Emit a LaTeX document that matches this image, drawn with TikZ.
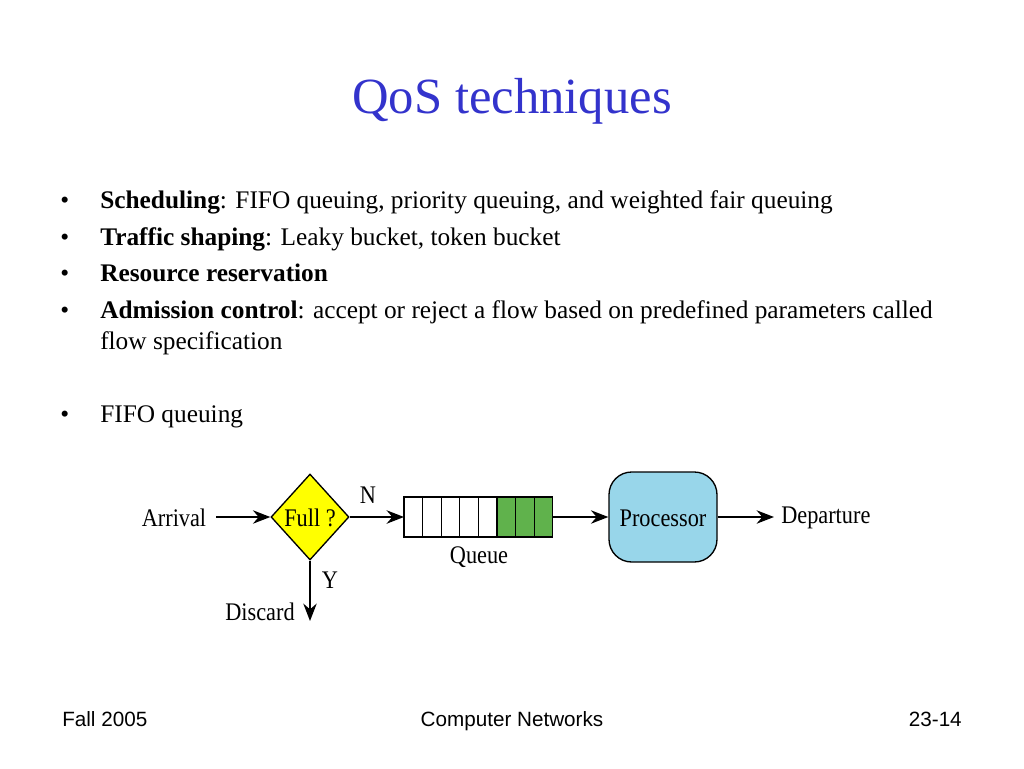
\documentclass[tikz,border=0pt]{standalone}
\usepackage{fontspec}
\usepackage{graphicx}
\setmainfont{Liberation Serif}
\newfontfamily\footfont{Liberation Sans}
\usetikzlibrary{shapes.geometric,arrows.meta}
\definecolor{titleblue}{RGB}{51,51,204}
\definecolor{qgreen}{RGB}{96,178,76}
\definecolor{procblue}{RGB}{152,214,234}
\definecolor{diayellow}{RGB}{255,255,0}
\newcommand\dtx[1]{\scalebox{0.88}[1]{#1}}
\begin{document}
\begin{tikzpicture}[x=0.75pt,y=-0.75pt,
  bodytext/.style={anchor=base west,inner sep=0pt,font=\fontsize{19pt}{22pt}\selectfont},
  bul/.style={anchor=base west,inner sep=0pt,font=\fontsize{19pt}{22pt}\selectfont},
  dtext/.style={inner sep=0pt,font=\fontsize{19pt}{22pt}\selectfont},
  foot/.style={inner sep=0pt,anchor=base,font=\footfont\fontsize{15.5pt}{18pt}\selectfont},
  flow/.style={draw=black,line width=1.6pt,-{Stealth[length=13pt,width=10pt]}},
  cell/.style={draw=black,line width=1pt,minimum width=18.6*0.75pt,minimum height=40*0.75pt,inner sep=0pt,outer sep=0pt}
]
\useasboundingbox (0,0) rectangle (1024,768);
% title
\node[inner sep=0pt,text=titleblue,font=\fontsize{38pt}{42pt}\selectfont] (title) at (512,101) {QoS techniques};
% bullets
\node[bul] (b1) at (60,208) {\textbullet};
\node[bodytext] (t1) at (100,208) {\textbf{Scheduling}: FIFO queuing, priority queuing, and weighted fair queuing};
\node[bul] (b2) at (60,245) {\textbullet};
\node[bodytext] (t2) at (100,245) {\textbf{Traffic shaping}: Leaky bucket, token bucket};
\node[bul] (b3) at (60,281) {\textbullet};
\node[bodytext] (t3) at (100,281) {\textbf{Resource reservation}};
\node[bul] (b4) at (60,318) {\textbullet};
\node[bodytext] (t4) at (100,318) {\textbf{Admission control}: accept or reject a flow based on predefined parameters called};
\node[bodytext] (t4b) at (100,349) {flow specification};
\node[bul] (b5) at (60,422) {\textbullet};
\node[bodytext] (t5) at (100,422) {FIFO queuing};
% diagram
\node[dtext] (arrival) at (174,518) {\dtx{Arrival}};
\node[diamond,draw=black,line width=1pt,fill=diayellow,minimum width=78*0.75pt,minimum height=86*0.75pt,inner sep=0pt,aspect=0.9] (full) at (310,517) {};
\node[dtext] (fulltext) at (310,518) {\dtx{Full ?}};
% queue cells
\foreach \i in {1,...,5}{
  \node[cell,fill=white] (c\i) at ({404+18.6*(\i-0.5)},517) {};
}
\foreach \i in {6,7,8}{
  \node[cell,fill=qgreen] (c\i) at ({404+18.6*(\i-0.5)},517) {};
}
\node[dtext] (queue) at (479,557) {\dtx{Queue}};
\node[draw=black,line width=1pt,fill=procblue,rounded corners=17pt,minimum width=108*0.75pt,minimum height=90*0.75pt,inner sep=0pt] (proc) at (663,517) {};
\node[dtext] (proctext) at (663,518) {\dtx{Processor}};
\node[dtext,anchor=west] (depart) at (781,518) {\dtx{Departure}};
\node[dtext] (discard) at (260,612) {\dtx{Discard}};
\coordinate (discend) at (310,621);
\coordinate (arrstart) at (216,517);
\coordinate (depend) at (774,517);
\draw[flow] (arrstart) -- (full.west);
\draw[flow] (full.east) -- (c1.west);
\draw[flow] (c8.east) -- (proc.west);
\draw[flow] (proc.east) -- (depend);
\draw[flow] (full.south) -- (discend);
\node[dtext] (nlabel) at (368,495) {\dtx{N}};
\node[dtext] (ylabel) at (330,580) {\dtx{Y}};
% footer
\node[foot,anchor=base west] (f1) at (62,726) {Fall 2005};
\node[foot] (f2) at (512,726) {Computer Networks};
\node[foot,anchor=base east] (f3) at (962,726) {23-14};
\end{tikzpicture}
\end{document}
